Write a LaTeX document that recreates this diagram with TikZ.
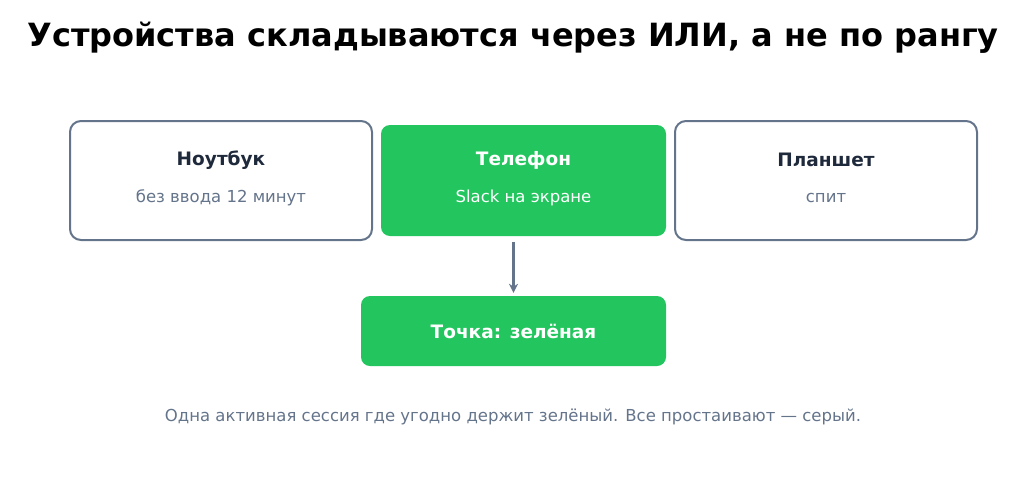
\documentclass[tikz,border=0pt]{standalone}
\usepackage{fontspec}
\setmainfont{DejaVu Sans}
\usetikzlibrary{arrows.meta}
\definecolor{edge}{HTML}{64748B}
\definecolor{ink}{HTML}{1E293B}
\definecolor{okgreen}{HTML}{22C55E}
\begin{document}
\begin{tikzpicture}[x=1pt,y=-1pt,
    device/.style={draw=edge,line width=2pt,rounded corners=11pt,fill=white,minimum width=302pt,minimum height=119pt},
    active/.style={fill=okgreen,rounded corners=9pt,minimum width=285pt,minimum height=111pt}]
    \useasboundingbox (0,0) rectangle (1027,482);
    \node (title) at (513,38) {\fontsize{32}{36}\selectfont\bfseries Устройства складываются через ИЛИ, а не по рангу};
    \node[device] (laptop) at (221,180.5) {};
    \node[active] (phone) at (523.5,180.5) {};
    \node[device] (tablet) at (826,180.5) {};
    \node[fill=okgreen,rounded corners=9pt,minimum width=305pt,minimum height=70pt] (dot) at (513.5,331) {\fontsize{18.5}{22}\selectfont\bfseries\color{white}Точка: зелёная};
    % labels
    \node[ink] at (221,160) {\fontsize{18.5}{22}\selectfont\bfseries Ноутбук};
    \node[edge] at (221,198) {\fontsize{16.5}{20}\selectfont без ввода 12 минут};
    \node[white] at (523.5,160) {\fontsize{18.5}{22}\selectfont\bfseries Телефон};
    \node[white] at (523.5,198) {\fontsize{16.5}{20}\selectfont Slack на экране};
    \node[ink] at (826,160) {\fontsize{18.5}{22}\selectfont\bfseries Планшет};
    \node[edge] at (826,198) {\fontsize{16.5}{20}\selectfont спит};
    \draw[edge,line width=3pt,-{Stealth[length=9pt,width=9pt]}] (513.5,242) -- ([yshift=3pt]dot.north);
    \node[edge] (note) at (513,417) {\fontsize{16.5}{20}\selectfont Одна активная сессия где угодно держит зелёный. Все простаивают — серый.};
\end{tikzpicture}
\end{document}
